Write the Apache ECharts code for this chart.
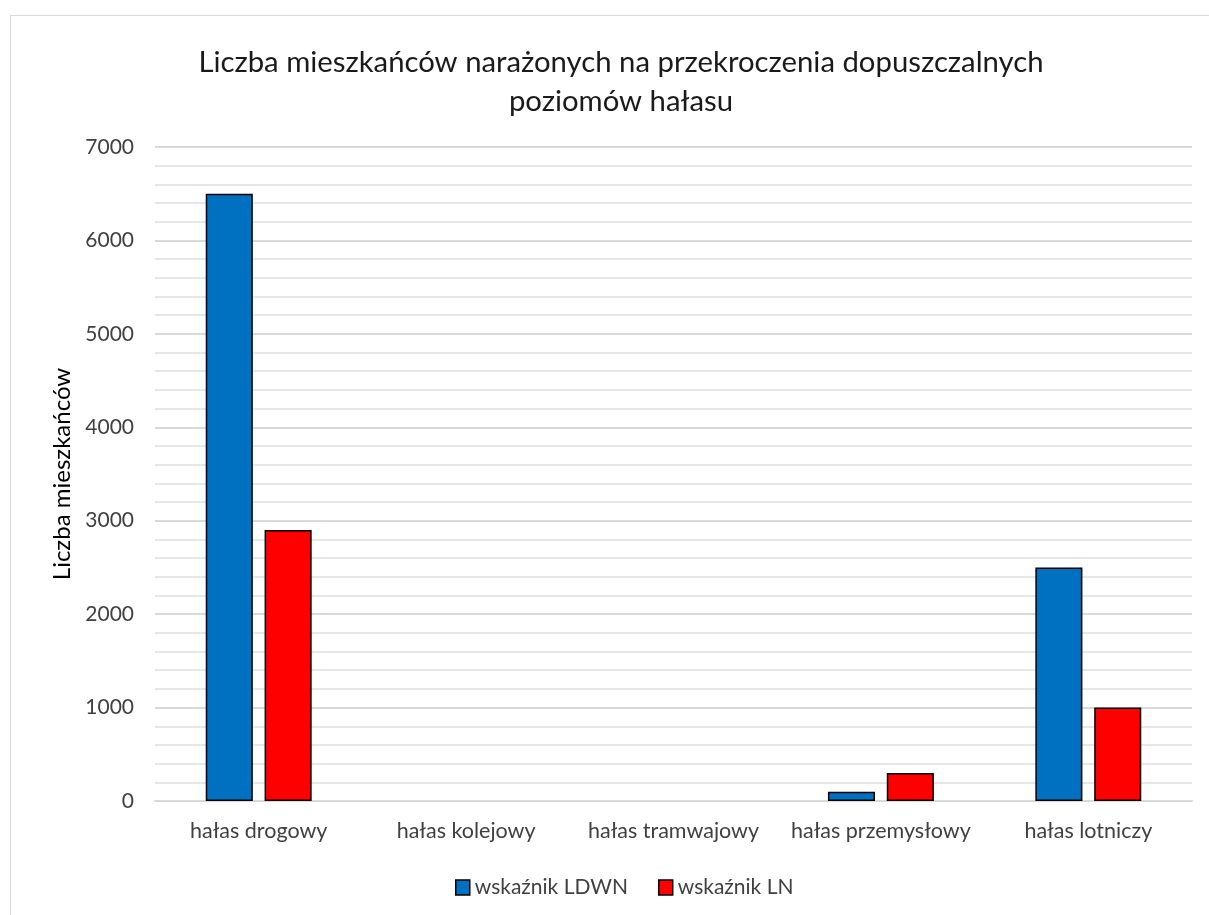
<!DOCTYPE html>
<html>
<head>
<meta charset="utf-8">
<script src="https://cdn.jsdelivr.net/npm/echarts@6/dist/echarts.min.js"></script>
<style>
  html, body { margin: 0; padding: 0; background: #fff; }
  #frame { position: absolute; left: 10px; top: 15px; width: 1210px; height: 910px; border: 1px solid #d9d9d9; box-sizing: border-box; }
  #chart { position: absolute; left: 0; top: 0; width: 1209px; height: 915px; }
</style>
</head>
<body>
<div id="frame"></div>
<div id="chart"></div>
<script>
// Noise exposure: residents exposed to exceedances, by noise source
const categories = ['hałas drogowy', 'hałas kolejowy', 'hałas tramwajowy', 'hałas przemysłowy', 'hałas lotniczy'];
const ldwnValues = [6500, 0, 0, 100, 2500];
const lnValues = [2900, 0, 0, 300, 1000];
const seriesNames = ['wskaźnik LDWN', 'wskaźnik LN'];

const FONT = 'Lato, "Open Sans", sans-serif';
const chart = echarts.init(document.getElementById('chart'), null, { renderer: 'canvas' });

// zero-height bars get no outline so they stay invisible
const toBarData = vals => vals.map(v => v === 0 ? { value: v, itemStyle: { borderWidth: 0 } } : v);

chart.setOption({
  backgroundColor: 'transparent',
  animation: false,
  textStyle: { fontFamily: FONT },
  title: {
    text: 'Liczba mieszkańców narażonych na przekroczenia dopuszczalnych\npoziomów hałasu',
    left: 616,
    top: 38,
    textAlign: 'center',
    textStyle: { fontFamily: FONT, fontSize: 29.3, fontWeight: 'normal', color: '#1a1a1a', lineHeight: 39 }
  },
  legend: {
    data: seriesNames,
    left: 450,
    top: 872,
    itemWidth: 14,
    itemHeight: 15,
    itemGap: 30,
    icon: 'rect',
    textStyle: { fontFamily: FONT, fontSize: 21, color: '#404040' },
    itemStyle: { borderColor: '#000', borderWidth: 1.5 }
  },
  grid: { left: 155, right: 17, top: 147, bottom: 114, containLabel: false },
  xAxis: {
    type: 'category',
    data: categories,
    axisLine: { show: true, lineStyle: { color: '#d9d9d9', width: 2 } },
    axisTick: { show: false },
    axisLabel: { fontFamily: FONT, fontSize: 21.5, color: '#404040', margin: 19, interval: 0 }
  },
  yAxis: {
    type: 'value',
    min: 0,
    max: 7000,
    interval: 1000,
    name: 'Liczba mieszkańców',
    nameLocation: 'middle',
    nameGap: 79,
    nameRotate: 90,
    nameTextStyle: { fontFamily: FONT, fontSize: 24, color: '#000' },
    axisLine: { show: false },
    axisTick: { show: false },
    axisLabel: { fontFamily: FONT, fontSize: 21, color: '#404040', margin: 21, formatter: v => String(v) },
    splitLine: { show: true, lineStyle: { color: '#d9d9d9', width: 2 } },
    minorTick: { show: false, splitNumber: 5 },
    minorSplitLine: { show: true, lineStyle: { color: '#e6e6e6', width: 2 } }
  },
  series: [
    {
      name: seriesNames[0],
      type: 'bar',
      data: toBarData(ldwnValues),
      barWidth: '22.7%',
      barGap: '25%',
      itemStyle: { color: '#0070c0', borderColor: '#000', borderWidth: 1.5 }
    },
    {
      name: seriesNames[1],
      type: 'bar',
      data: toBarData(lnValues),
      barWidth: '22.7%',
      itemStyle: { color: '#ff0000', borderColor: '#000', borderWidth: 1.5 }
    }
  ]
});
</script>
</body>
</html>
